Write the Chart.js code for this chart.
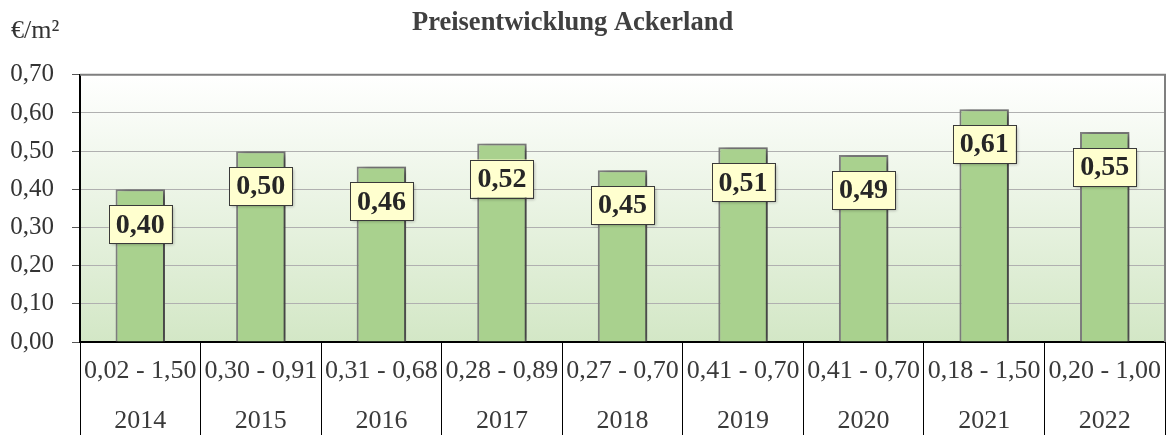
<!DOCTYPE html>
<html><head><meta charset="utf-8">
<script src="https://cdn.jsdelivr.net/npm/chart.js@4/dist/chart.umd.min.js"></script>
<style>html,body{margin:0;padding:0;background:#fff}#wrap{width:1167px;height:435px;position:relative}</style>
</head><body><div id="wrap"><canvas id="c" width="1167" height="435"></canvas></div>
<script>
const years = ['2014','2015','2016','2017','2018','2019','2020','2021','2022'];
const ranges = ['0,02 - 1,50','0,30 - 0,91','0,31 - 0,68','0,28 - 0,89','0,27 - 0,70','0,41 - 0,70','0,41 - 0,70','0,18 - 1,50','0,20 - 1,00'];
const prices = [0.40,0.50,0.46,0.52,0.45,0.51,0.49,0.61,0.55];
const unitLabel = '€/m²';
const titleText = 'Preisentwicklung Ackerland';

const SERIF = '"Liberation Serif", "Times New Roman", serif';
const fmt = v => v.toFixed(2).replace('.', ',');

const bgPlugin = {
  id: 'bg',
  beforeDraw(chart) {
    const {ctx, chartArea: a} = chart;
    const g = ctx.createLinearGradient(0, a.top, 0, a.bottom);
    g.addColorStop(0, '#ffffff');
    g.addColorStop(1, '#d3e7c6');
    ctx.save();
    ctx.fillStyle = g;
    ctx.fillRect(a.left, a.top, a.right - a.left, a.bottom - a.top);
    ctx.restore();
  },
  beforeDatasetsDraw(chart) {
    const ctx = chart.ctx;
    ctx.save();
    ctx.shadowColor = 'rgba(0,0,0,0.5)';
    ctx.shadowBlur = 7;
    ctx.shadowOffsetX = 5;
    ctx.shadowOffsetY = 2;
  },
  afterDatasetsDraw(chart) {
    const ctx = chart.ctx;
    ctx.restore();
    const meta = chart.getDatasetMeta(0);
    const ds = chart.data.datasets[0].data;
    ctx.save();
    meta.data.forEach((el, i) => {
      const w = 63, h = 38;
      const cx = el.x, cy = el.y + 35;
      ctx.shadowColor = 'rgba(0,0,0,0.3)';
      ctx.shadowBlur = 3; ctx.shadowOffsetX = 2; ctx.shadowOffsetY = 2;
      ctx.fillStyle = '#ffffcf';
      ctx.fillRect(cx - w/2, cy - h/2, w, h);
      ctx.shadowColor = 'transparent';
      ctx.strokeStyle = '#3a3a3a';
      ctx.lineWidth = 1;
      ctx.strokeRect(Math.round(cx - w/2) + 0.5, Math.round(cy - h/2) + 0.5, w, h);
      ctx.fillStyle = '#262626';
      ctx.font = 'bold 28px ' + SERIF;
      ctx.textAlign = 'center';
      ctx.textBaseline = 'middle';
      ctx.fillText(fmt(ds[i]), cx, cy + 1);
    });
    ctx.restore();
  },
  afterDraw(chart) {
    const {ctx, chartArea: a} = chart;
    ctx.save();
    ctx.strokeStyle = '#7f7f7f';
    ctx.lineWidth = 2;
    ctx.beginPath();
    ctx.moveTo(a.left, a.top);
    ctx.lineTo(a.right, a.top);
    ctx.lineTo(a.right, a.bottom);
    ctx.stroke();
    ctx.fillStyle = '#333333';
    ctx.font = '26px ' + SERIF;
    ctx.textAlign = 'left';
    ctx.textBaseline = 'middle';
    ctx.fillText(unitLabel, 11, 31);
    ctx.restore();
  }
};

new Chart(document.getElementById('c'), {
  type: 'bar',
  data: {
    labels: years.map((y, i) => [ranges[i], y]),
    datasets: [{
      data: prices,
      backgroundColor: '#a9d18e',
      borderColor: '#7f7f7f',
      borderWidth: 2,
      barPercentage: 0.41,
      categoryPercentage: 1.0
    }]
  },
  options: {
    responsive: false,
    devicePixelRatio: 1,
    animation: false,
    layout: { padding: { left: 0, right: 2, top: 0, bottom: 0 } },
    plugins: {
      legend: { display: false },
      tooltip: { enabled: false },
      title: {
        display: true,
        text: titleText + '\u00A0\u00A0\u00A0',
        color: '#404040',
        font: { family: SERIF, size: 26.5, weight: 'bold', lineHeight: 1.2 },
        padding: { top: 7, bottom: 36 }
      }
    },
    scales: {
      x: {
        grid: { offset: true, drawOnChartArea: false, drawTicks: true, tickLength: 93, color: '#000', tickColor: '#000', lineWidth: 1 },
        border: { color: '#000', width: 2 },
        ticks: { padding: -89, color: '#3a3a3a', maxRotation: 0, minRotation: 0, autoSkip: false,
                 font: { family: SERIF, size: 26, lineHeight: '50px' } },
        afterFit: s => { s.height = 93; }
      },
      y: {
        min: 0, max: 0.7,
        grid: { color: '#b0b0b0', tickColor: '#555', tickLength: 8, lineWidth: 1 },
        border: { color: '#000', width: 2 },
        ticks: { stepSize: 0.1, padding: 18, color: '#333', callback: v => fmt(v),
                 font: { family: SERIF, size: 25 } },
        afterFit: s => { s.width = 80; }
      }
    }
  },
  plugins: [bgPlugin]
});
</script>
</body></html>
